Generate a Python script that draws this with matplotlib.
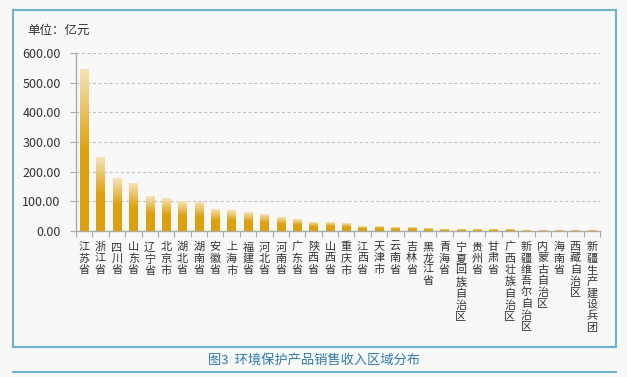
import numpy as np
import matplotlib.pyplot as plt
from matplotlib.colors import LinearSegmentedColormap
from matplotlib.patches import Rectangle
from matplotlib.lines import Line2D

plt.rcParams['font.family'] = ['Noto Sans CJK SC', 'DejaVu Sans']

regions = [
    "江苏省", "浙江省", "四川省", "山东省", "辽宁省", "北京市", "湖北省", "湖南省",
    "安徽省", "上海市", "福建省", "河北省", "河南省", "广东省", "陕西省", "山西省",
    "重庆市", "江西省", "天津市", "云南省", "吉林省", "黑龙江省", "青海省",
    "宁夏回族自治区", "贵州省", "甘肃省", "广西壮族自治区", "新疆维吾尔自治区",
    "内蒙古自治区", "海南省", "西藏自治区", "新疆生产建设兵团",
]
revenue = [
    544, 247, 176, 160, 115, 108, 100, 97,
    71, 68, 64, 54, 47, 40, 28, 27,
    24, 16, 16, 13, 12, 9, 6,
    5, 5, 5, 3.5, 3,
    3, 3, 3, 0.5,
]
yticks = [0, 100, 200, 300, 400, 500, 600]

BG = "#f8f8f7"
GOLD = "#dba10f"
LIGHT = "#f6e3b8"
FRAME = "#6fb1d2"

W, H = 627, 377
fig = plt.figure(figsize=(W / 100, H / 100), dpi=100, facecolor=BG)
ax = fig.add_axes([76 / W, 1 - 231 / H, 524 / W, 178 / H], facecolor=BG)

cmap = LinearSegmentedColormap.from_list("gold", [GOLD, GOLD, LIGHT])
grad = np.linspace(0, 1, 256).reshape(-1, 1)
bw = 0.5
for i, v in enumerate(revenue):
    ax.imshow(grad, cmap=cmap, origin="lower", aspect="auto",
              extent=[i - bw / 2, i + bw / 2, 0, v], zorder=3,
              interpolation="bilinear")

ax.set_xlim(-0.5, len(regions) - 0.5)
ax.set_ylim(0, 600)
ax.set_yticks(yticks)
ax.set_yticklabels([f"{t:.2f}" for t in yticks], fontsize=9, color="#333333")
ax.yaxis.grid(True, color="#bdbdbd", linestyle=(0, (2.5, 2.5)), linewidth=0.8)
ax.set_axisbelow(True)

ax.set_xticks(np.arange(-0.5, len(regions), 1.0))
ax.set_xticklabels([])
ax.tick_params(axis="x", length=4, color="#aaaaaa", direction="out")
ax.tick_params(axis="y", length=4, color="#aaaaaa", direction="out", pad=7)

for s in ("top", "right"):
    ax.spines[s].set_visible(False)
for s in ("left", "bottom"):
    ax.spines[s].set_color("#aaaaaa")
    ax.spines[s].set_linewidth(1.0)

# vertical stacked region labels
for i, name in enumerate(regions):
    ax.text(i, -11 / 178 * 600, "\n".join(name), ha="center", va="top",
            fontsize=8, linespacing=1.16, color="#333333", clip_on=False)

fig.text(27 / W, 1 - 30 / H, "单位：亿元", fontsize=9, color="#333333",
         ha="left", va="center")

# outer frame and caption
fig.patches.append(Rectangle((13 / W, 1 - 347 / H), 603 / W, 337 / H,
                             transform=fig.transFigure, fill=False,
                             edgecolor=FRAME, linewidth=1.5))
fig.lines.append(Line2D([13 / W, 616 / W], [1 - 372 / H, 1 - 372 / H],
                        transform=fig.transFigure, color=FRAME, linewidth=1.5))
fig.text(314 / W, 1 - 360 / H, "图3  环境保护产品销售收入区域分布", fontsize=9.5,
         color="#2f7cb3", ha="center", va="center")

fig.savefig("out.png", dpi=100, facecolor=BG)
